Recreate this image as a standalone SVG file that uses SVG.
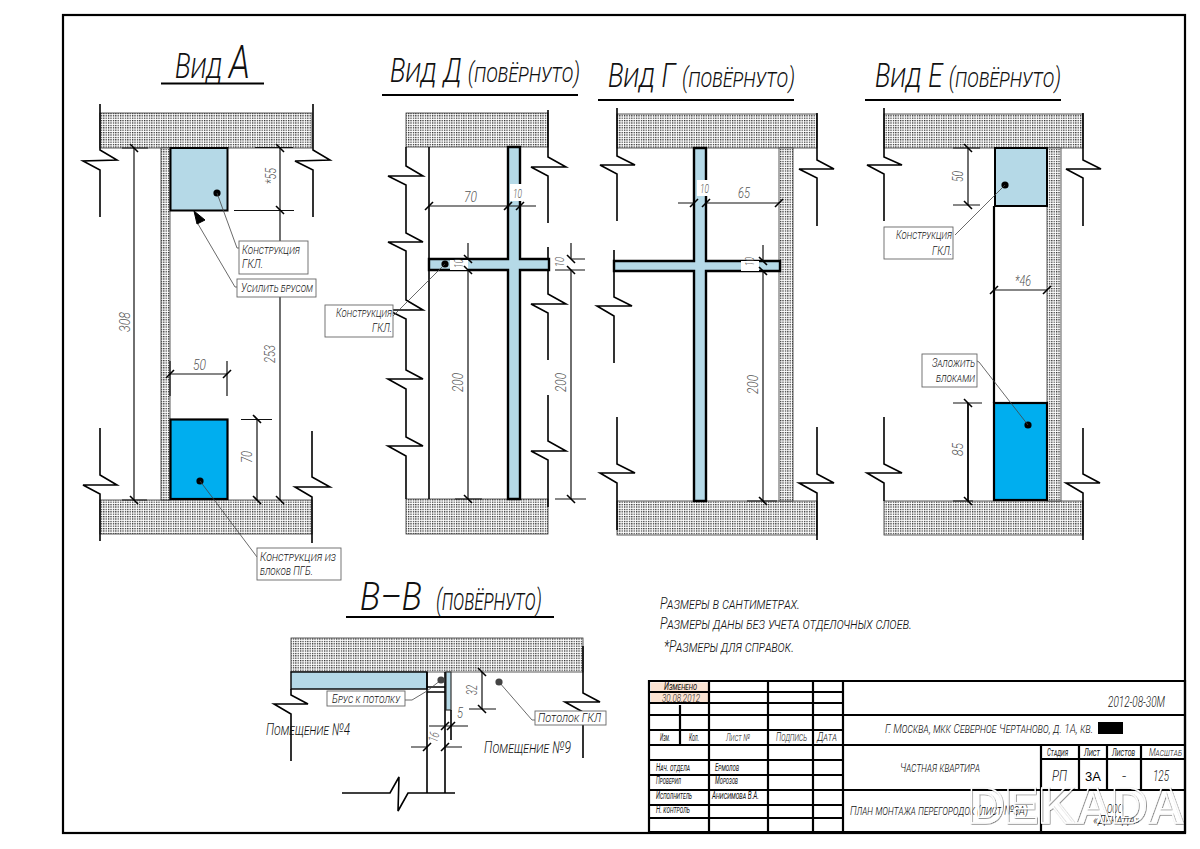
<svg xmlns="http://www.w3.org/2000/svg" width="1200" height="849" viewBox="0 0 1200 849">
<style>
.w{fill:none;stroke:#000;stroke-width:1.6}
.d{fill:none;stroke:#111;stroke-width:1.2}
.th{fill:none;stroke:#000;stroke-width:2.2}
.l{fill:none;stroke:#444;stroke-width:.8}
.lb{fill:#fff;stroke:#666;stroke-width:.9}
.hatch{fill:url(#h);stroke:#333;stroke-width:.8}
.lt{fill:#b5d9e7;stroke:#000;stroke-width:2}
.dk{fill:#00aeef;stroke:#000;stroke-width:2.2}
.p{fill:#b5d9e7;stroke:#000;stroke-width:2.4}
.wh{fill:#fff;stroke:none}
text{font-family:Roboto,"Open Sans","Liberation Sans",sans-serif;font-style:italic;font-weight:300;fill:#111;font-variant:small-caps}
.t1{font-size:35px}
.t2{font-size:34px}
.p2{font-size:27px}
.lab{font-size:13px}
.dim{font-size:15px;fill:#555;font-variant:normal}
.dm{font-size:13.5px;fill:#555;font-variant:normal}
.note{font-size:16.5px}
.tb{font-size:13.5px}
.ts{font-size:10px;font-weight:400}
.tv{font-size:15px;font-variant:normal}
</style>
<defs>
<pattern id="h" width="2.4" height="2.4" patternUnits="userSpaceOnUse"><rect width="2.4" height="2.4" fill="#fff"/><rect width="1.25" height="1.25" fill="#222"/></pattern>
<path id="tv" d="M-4-4L4 4" fill="none" stroke="#000" stroke-width="1.6"/>
<path id="ts" d="M-4 4L4-4" fill="none" stroke="#000" stroke-width="1.6"/>
<circle id="dot" r="3.6" fill="#000"/>
<filter id="sh" x="-5%" y="-10%" width="110%" height="120%"><feDropShadow dx=".7" dy=".7" stdDeviation=".2" flood-color="#000" flood-opacity=".6"/></filter>
</defs>
<rect width="1200" height="849" fill="#fff"/>
<rect id="frame" x="63" y="15" width="1122" height="818" fill="none" stroke="#000" stroke-width="2.2"/>

<g id="view-a">
<text class="t1" x="175" y="78" textLength="75" lengthAdjust="spacingAndGlyphs">Вид <tspan style="font-size:46px">А</tspan></text>
<path class="th" d="M161 83.500H264"/>
<rect class="hatch" x="100" y="113" width="212" height="35"/>
<rect class="hatch" x="100" y="500" width="212" height="34"/>
<rect class="hatch" x="161" y="148" width="9" height="352"/>
<path class="w" d="M100 104V150L117 160L83 161L100 170V217M313 104V150L330 160L295 161L313 170V217M100 428V475L117 485L83 485L100 494V541M312 431V477L330 487L295 487L312 497V543"/>
<rect class="lt" x="170.500" y="148" width="57" height="62.500"/>
<rect class="dk" x="170.500" y="419.500" width="57" height="79.500"/>
<path class="d" d="M134 148V500M280 148V241M280 297V500M122 148H148M255 147.500H293M234 210.500H294M122 500H147M241 419.500H272M257 419.500V500M170 361V396M227 361V396M170 374H227"/>
<g><use href="#tv" x="134" y="148"/><use href="#tv" x="134" y="500"/><use href="#tv" x="280" y="148"/><use href="#tv" x="280" y="210"/><use href="#tv" x="280" y="500"/><use href="#tv" x="257" y="419"/><use href="#tv" x="257" y="500"/><use href="#ts" x="170" y="374"/><use href="#ts" x="227" y="374"/></g>
<text class="dim" transform="translate(130,332) rotate(-90)" textLength="20" lengthAdjust="spacingAndGlyphs">308</text>
<text class="dim" transform="translate(276,184) rotate(-90)" textLength="16" lengthAdjust="spacingAndGlyphs">*55</text>
<text class="dim" transform="translate(275,363) rotate(-90)" textLength="18" lengthAdjust="spacingAndGlyphs">253</text>
<text class="dim" transform="translate(252,463) rotate(-90)" textLength="12" lengthAdjust="spacingAndGlyphs">70</text>
<text class="dim" x="193" y="370" textLength="13" lengthAdjust="spacingAndGlyphs">50</text>
<use href="#dot" x="217" y="193"/><use href="#dot" x="200" y="481"/>
<path d="M194 211L205 220L197 224Z" fill="#000" stroke="#000"/>
<path class="l" d="M217 193L237 248H239M198 224L235 287H237M200 481L257 557"/>
<rect class="lb" x="239" y="241" width="69" height="33"/>
<text class="lab" x="242" y="254" textLength="58" lengthAdjust="spacingAndGlyphs">Конструкция</text>
<text class="lab" x="242" y="268" textLength="21" lengthAdjust="spacingAndGlyphs">ГКЛ.</text>
<rect class="lb" x="237" y="279" width="79" height="18"/>
<text class="lab" x="241" y="292" textLength="72" lengthAdjust="spacingAndGlyphs">Усилить брусом</text>
<rect class="lb" x="257" y="548" width="84" height="32"/>
<text class="lab" x="260" y="561" textLength="76" lengthAdjust="spacingAndGlyphs">Конструкция из</text>
<text class="lab" x="260" y="575" textLength="53" lengthAdjust="spacingAndGlyphs">блоков ПГБ.</text>
</g>

<g id="view-d">
<text class="t2" x="390" y="82" textLength="190" lengthAdjust="spacingAndGlyphs">Вид Д <tspan class="p2">(повёрнуто)</tspan></text>
<path class="th" d="M382 95H578"/>
<rect class="hatch" x="406" y="113" width="142" height="34"/>
<rect class="hatch" x="406" y="499" width="142" height="35"/>
<path class="w" d="M406 147V166L423 176L388 176L406 185V233L423 242L388 242L406 251V300L423 310L388 310L406 319V370L423 379L388 379L406 389V437L423 446L388 446L406 456V499M548 110V157L566 167L531 167L548 176V223M548 247V294L566 304L531 304L548 313V360M548 395V441L566 451L531 451L548 460V507M429 147V499"/>
<path class="p" d="M508 147H520V259H549V270H520V499H508V270H429V259H508Z"/>
<rect class="wh" x="510" y="184" width="13" height="17"/><rect class="wh" x="450" y="260" width="18" height="10"/>
<path class="d" d="M429 206H536M468 243V259M468 270V499M455 499H482M571 243V259M571 270V499M572 259H585M555 270H585M555 499H586"/>
<g><use href="#ts" x="429" y="206"/><use href="#ts" x="508" y="206"/><use href="#ts" x="520" y="206"/><use href="#tv" x="468" y="259"/><use href="#tv" x="468" y="270"/><use href="#tv" x="468" y="499"/><use href="#tv" x="571" y="259"/><use href="#tv" x="571" y="270"/><use href="#tv" x="571" y="499"/></g>
<text class="dim" x="464" y="202" textLength="13" lengthAdjust="spacingAndGlyphs">70</text>
<text class="dm" x="513" y="198" textLength="9" lengthAdjust="spacingAndGlyphs">10</text>
<text class="dm" transform="translate(463,268) rotate(-90)" textLength="9" lengthAdjust="spacingAndGlyphs">10</text>
<text class="dm" transform="translate(564,267) rotate(-90)" textLength="10" lengthAdjust="spacingAndGlyphs">10</text>
<text class="dim" transform="translate(463,392) rotate(-90)" textLength="19" lengthAdjust="spacingAndGlyphs">200</text>
<text class="dim" transform="translate(566,392) rotate(-90)" textLength="19" lengthAdjust="spacingAndGlyphs">200</text>
<use href="#dot" x="445" y="264"/>
<path class="l" d="M445 264L393 316"/>
<rect class="lb" x="325" y="305" width="68" height="32"/>
<text class="lab" x="392" y="317" text-anchor="end" textLength="56" lengthAdjust="spacingAndGlyphs">Конструкция</text>
<text class="lab" x="392" y="332" text-anchor="end" textLength="20" lengthAdjust="spacingAndGlyphs">ГКЛ.</text>
</g>

<g id="view-g">
<text class="t2" x="608" y="87" textLength="187" lengthAdjust="spacingAndGlyphs">Вид Г <tspan class="p2">(повёрнуто)</tspan></text>
<path class="th" d="M598 100H794"/>
<rect class="hatch" x="617" y="114" width="200" height="34"/>
<rect class="hatch" x="617" y="501" width="200" height="34"/>
<rect class="hatch" x="779" y="148" width="14" height="353"/>
<path class="w" d="M617 108V156L635 165L600 165L617 174V221M614 250V297L632 306L597 306L614 316V363M617 417V464L635 473L600 473L617 483V530M817 113V160L834 169L799 169L817 178V226M817 427V474L834 483L799 483L817 493V540"/>
<path class="p" d="M694 148H706V261H780V271H706V501H694V271H614V261H694Z"/>
<rect class="wh" x="697" y="180" width="11" height="16"/><rect class="wh" x="741" y="261" width="18" height="10"/>
<path class="d" d="M678 203H694M706 203H779M763 245V261M763 271V501M747 501H777"/>
<g><use href="#ts" x="694" y="203"/><use href="#ts" x="706" y="203"/><use href="#ts" x="779" y="203"/><use href="#tv" x="763" y="261"/><use href="#tv" x="763" y="271"/><use href="#tv" x="763" y="501"/></g>
<text class="dim" x="738" y="198" textLength="12" lengthAdjust="spacingAndGlyphs">65</text>
<text class="dm" x="700" y="193" textLength="9" lengthAdjust="spacingAndGlyphs">10</text>
<text class="dm" transform="translate(754,266) rotate(-90)" textLength="9" lengthAdjust="spacingAndGlyphs">10</text>
<text class="dim" transform="translate(758,394) rotate(-90)" textLength="19" lengthAdjust="spacingAndGlyphs">200</text>
</g>

<g id="view-e">
<text class="t2" x="875" y="87" textLength="186" lengthAdjust="spacingAndGlyphs">Вид Е <tspan class="p2">(повёрнуто)</tspan></text>
<path class="th" d="M865 100H1061"/>
<rect class="hatch" x="884" y="114" width="199" height="34"/>
<rect class="hatch" x="884" y="501" width="199" height="34"/>
<rect class="hatch" x="1047" y="148" width="14" height="353"/>
<path class="w" d="M884 108V157L902 165L867 165L884 174V221M1083 113V160L1101 169L1066 169L1083 178V226M884 417V464L902 473L867 473L884 483V501M1083 428V474L1100 483L1066 483L1083 493V540"/>
<path class="th" d="M994 206V403"/>
<rect class="lt" x="995" y="148" width="52" height="58"/>
<rect class="dk" x="994" y="403" width="53" height="97"/>
<path class="d" d="M968 148V205M953 148H980M953 205H980M953 403H982M953 501H973M994 290H1047"/>
<path d="M968 403V501" fill="none" stroke="#000" stroke-width="1.8"/>
<g><use href="#tv" x="968" y="148"/><use href="#tv" x="968" y="205"/><use href="#tv" x="968" y="403"/><use href="#tv" x="968" y="501"/><use href="#ts" x="994" y="290"/><use href="#ts" x="1047" y="290"/></g>
<text class="dim" x="1015" y="286" textLength="16" lengthAdjust="spacingAndGlyphs">*46</text>
<text class="dim" transform="translate(963,182) rotate(-90)" textLength="11" lengthAdjust="spacingAndGlyphs">50</text>
<text class="dim" transform="translate(963,456) rotate(-90)" textLength="13" lengthAdjust="spacingAndGlyphs">85</text>
<use href="#dot" x="1005" y="185"/><use href="#dot" x="1028" y="425"/>
<path class="l" d="M1005 185L955 235M1028 425L979 362L977 361"/>
<rect class="lb" x="884" y="227" width="69" height="32"/>
<text class="lab" x="952" y="239" text-anchor="end" textLength="56" lengthAdjust="spacingAndGlyphs">Конструкция</text>
<text class="lab" x="952" y="255" text-anchor="end" textLength="20" lengthAdjust="spacingAndGlyphs">ГКЛ.</text>
<rect class="lb" x="922" y="354" width="55" height="33"/>
<text class="lab" x="975" y="367" text-anchor="end" textLength="43" lengthAdjust="spacingAndGlyphs">Заложить</text>
<text class="lab" x="975" y="382" text-anchor="end" textLength="39" lengthAdjust="spacingAndGlyphs">блоками</text>
</g>

<g id="section-bb">
<text class="t1" x="360" y="610" textLength="62" lengthAdjust="spacingAndGlyphs" style="font-size:39px">В–В</text>
<text class="p2" x="436" y="610" textLength="106" lengthAdjust="spacingAndGlyphs" style="font-size:30px">(повёрнуто)</text>
<path class="th" d="M346 617H554"/>
<rect class="hatch" x="291" y="638" width="292" height="34"/>
<rect class="lt" x="291" y="672" width="136" height="17" style="stroke-width:1.4"/>
<rect x="446" y="672" width="5" height="38" fill="#b5d9e7" stroke="#333" stroke-width="1.2"/>
<path class="w" d="M427 672V793M445 672V793M427 687H445M427 692H445M342 793H390L399 777L398 811L408 793H455M291 689V695L308 704L274 704L291 714V761M583 646V693L600 702L565 702L583 712V758M451 710V740"/>
<path class="d" d="M482 672V709M469 709H496M429 726H468M411 747H427M445 747H462"/>
<g><use href="#tv" x="482" y="672"/><use href="#tv" x="482" y="709"/><use href="#ts" x="445" y="726"/><use href="#ts" x="451" y="726"/><use href="#ts" x="427" y="747"/><use href="#ts" x="445" y="747"/></g>
<text class="dim" transform="translate(477,695) rotate(-90)" textLength="10" lengthAdjust="spacingAndGlyphs">32</text>
<text class="dm" transform="translate(437,743) rotate(-75)" textLength="10" lengthAdjust="spacingAndGlyphs">16</text>
<text class="dim" x="457" y="718" textLength="6" lengthAdjust="spacingAndGlyphs">5</text>
<circle cx="441" cy="680" r="3.6" fill="#444"/><circle cx="499" cy="682" r="3.6" fill="#444"/>
<path class="l" d="M405 700H412L427 691L441 680M499 682L532 720H535"/>
<rect class="lb" x="327" y="691" width="78" height="15"/>
<text class="lab" x="332" y="703" textLength="68" lengthAdjust="spacingAndGlyphs">Брус к потолку</text>
<rect class="lb" x="535" y="711" width="71" height="14"/>
<text class="lab" x="538" y="722" textLength="63" lengthAdjust="spacingAndGlyphs">Потолок ГКЛ</text>
<text class="note" x="266" y="735" textLength="84" lengthAdjust="spacingAndGlyphs">Помещение №4</text>
<text class="note" x="484" y="753" textLength="87" lengthAdjust="spacingAndGlyphs">Помещение №9</text>
</g>

<g id="notes">
<text class="note" x="660" y="609" textLength="140" lengthAdjust="spacingAndGlyphs">Размеры в сантиметрах.</text>
<text class="note" x="660" y="629" textLength="252" lengthAdjust="spacingAndGlyphs">Размеры даны без учета отделочных слоев.</text>
<text class="note" x="664" y="652" textLength="130" lengthAdjust="spacingAndGlyphs">*Размеры для справок.</text>
</g>

<g id="title-block">
<rect x="651" y="682.500" width="57" height="9" fill="#fbe3d2"/><rect x="651" y="693" width="57" height="9" fill="#fbe3d2"/>
<path class="th" d="M649 681H1185V832H649ZM709 681V832M768 681V832M813 681V832M843 681V832M680 705V745M649 692H843M649 703H843M649 715H1185M649 730H843M649 745H1185M649 760H843M649 775H843M649 790H1185M649 805H843M649 818H843M1041 745V832M1041 759H1185M1079 745V790M1107 745V790M1141 745V790"/>
<text class="ts" x="664" y="689.500" textLength="33" lengthAdjust="spacingAndGlyphs">Изменено</text>
<text class="tb" x="662" y="702" textLength="38" lengthAdjust="spacingAndGlyphs" style="font-size:11px;font-variant:normal">30.08.2012</text>
<g>
<text class="ts" x="660" y="741" textLength="10" lengthAdjust="spacingAndGlyphs">Изм.</text><text class="ts" x="689" y="741" textLength="10" lengthAdjust="spacingAndGlyphs">Кол.</text><text class="ts" x="726" y="741" textLength="24" lengthAdjust="spacingAndGlyphs" style="font-weight:300">Лист №</text>
<text class="tb" x="776" y="741" textLength="31" lengthAdjust="spacingAndGlyphs" style="font-size:12px">Подпись</text><text class="tb" x="817" y="741" textLength="20" lengthAdjust="spacingAndGlyphs" style="font-size:12px">Дата</text>
<text class="ts" x="656" y="771" textLength="34" lengthAdjust="spacingAndGlyphs">Нач. отдела</text><text class="ts" x="715" y="771" textLength="24" lengthAdjust="spacingAndGlyphs">Ермолов</text>
<text class="ts" x="656" y="784" textLength="25" lengthAdjust="spacingAndGlyphs">Проверил</text><text class="ts" x="715" y="784" textLength="23" lengthAdjust="spacingAndGlyphs">Морозов</text>
<text class="ts" x="656" y="799" textLength="36" lengthAdjust="spacingAndGlyphs">Исполнитель</text><text class="ts" x="712" y="799" textLength="47" lengthAdjust="spacingAndGlyphs">Анисимова В.А.</text>
<text class="ts" x="656" y="813" textLength="34" lengthAdjust="spacingAndGlyphs">Н. контроль</text>
</g>
<text class="tb" x="1108" y="707" textLength="57" lengthAdjust="spacingAndGlyphs" style="font-variant:normal;font-size:15px">2012-08-30М</text>
<text class="tb" x="885" y="733" textLength="208" lengthAdjust="spacingAndGlyphs">Г. Москва, мкк Северное Чертаново, д. 1А, кв.</text>
<rect x="1098" y="722" width="25" height="12" fill="#000"/>
<text class="tb" x="900" y="772" textLength="80" lengthAdjust="spacingAndGlyphs">Частная квартира</text>
<text class="tb" x="850" y="815" textLength="178" lengthAdjust="spacingAndGlyphs">План монтажа перегородок (лист №3А)</text>
<text class="ts" x="1047" y="756" textLength="21" lengthAdjust="spacingAndGlyphs">Стадия</text><text class="ts" x="1084" y="756" textLength="16" lengthAdjust="spacingAndGlyphs">Лист</text><text class="ts" x="1112" y="756" textLength="23" lengthAdjust="spacingAndGlyphs">Листов</text><text class="ts" x="1149" y="756" textLength="33" lengthAdjust="spacingAndGlyphs" style="font-weight:300">Масштаб</text>
<text class="tv" x="1052" y="781" textLength="15" lengthAdjust="spacingAndGlyphs">РП</text>
<text x="1093" y="781" text-anchor="middle" style="font-family:'Liberation Sans',sans-serif;font-style:normal;font-weight:400;font-size:13px;font-variant:normal;fill:#000">3А</text>
<text class="tv" x="1124" y="781" text-anchor="middle">-</text><text class="tv" x="1153" y="781" textLength="16" lengthAdjust="spacingAndGlyphs">125</text>
<text class="tb" x="1107" y="813" textLength="16" lengthAdjust="spacingAndGlyphs" style="font-variant:normal">ООО</text><text class="tb" x="1093" y="824" textLength="47" lengthAdjust="spacingAndGlyphs">«Декада»</text>
</g>

<text id="watermark" x="968" y="823" textLength="216" lengthAdjust="spacingAndGlyphs" filter="url(#sh)" style="font-family:'Liberation Sans',sans-serif;font-style:normal;font-weight:700;font-size:50px;font-variant:normal;fill:none;stroke:#fff;stroke-width:1.3">DEKADA</text>
</svg>
